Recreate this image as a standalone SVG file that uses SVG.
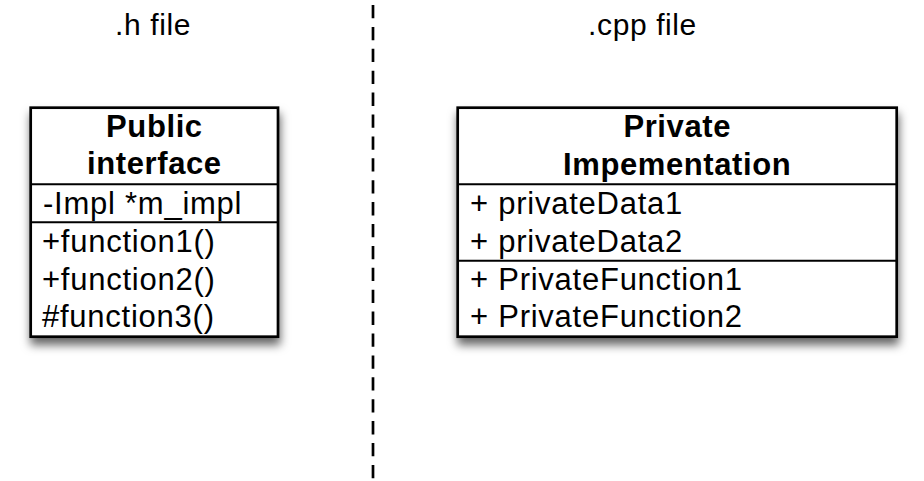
<svg xmlns="http://www.w3.org/2000/svg" width="924" height="481" viewBox="0 0 924 481">
<defs>
<filter id="sh" x="-10%" y="-10%" width="120%" height="130%">
<feDropShadow dx="1" dy="7" stdDeviation="5" flood-color="#000" flood-opacity="0.6"/>
</filter>
<style>
text{font-family:"Liberation Sans",Arial,sans-serif;fill:#000}
.hd{font-size:30px;text-anchor:middle;letter-spacing:0.6px}
.ti{font-size:31px;font-weight:bold;text-anchor:middle;letter-spacing:0.6px}
.it{font-size:31px;letter-spacing:0.75px}
.box{fill:#fff;stroke:#000;stroke-width:2.7}
.div{stroke:#000;stroke-width:2}
.sep{stroke:#000;stroke-width:2.7;stroke-dasharray:13.3 8.6;fill:none}
</style>
</defs>
<g id="connectors">
<line class="sep" x1="373" y1="5" x2="373" y2="480"/>
</g>
<g id="label-h"><text class="hd" x="153" y="35">.h file</text></g>
<g id="label-cpp"><text class="hd" x="642.5" y="35">.cpp file</text></g>
<g id="public-interface">
<rect class="box" x="30.7" y="107.7" width="247.3" height="229" filter="url(#sh)"/>
<line class="div" x1="30.7" y1="184.3" x2="278" y2="184.3"/>
<line class="div" x1="30.7" y1="222.3" x2="278" y2="222.3"/>
<text class="ti" x="154.4" y="136.7">Public</text>
<text class="ti" x="154.4" y="173.5">interface</text>
<text class="it" x="43" y="214.3">-Impl *m_impl</text>
<text class="it" x="42" y="251.7">+function1()</text>
<text class="it" x="42" y="289.5">+function2()</text>
<text class="it" x="42" y="326.7">#function3()</text>
</g>
<g id="private-implementation">
<rect class="box" x="457.7" y="107.7" width="439" height="229" filter="url(#sh)"/>
<line class="div" x1="457.7" y1="184.3" x2="896.7" y2="184.3"/>
<line class="div" x1="457.7" y1="260.7" x2="896.7" y2="260.7"/>
<text class="ti" x="677.2" y="136.7">Private</text>
<text class="ti" x="677.2" y="174.5">Impementation</text>
<text class="it" x="470" y="214.3">+ privateData1</text>
<text class="it" x="470" y="251.7">+ privateData2</text>
<text class="it" x="470" y="289.5">+ PrivateFunction1</text>
<text class="it" x="470" y="326.7">+ PrivateFunction2</text>
</g>
</svg>
